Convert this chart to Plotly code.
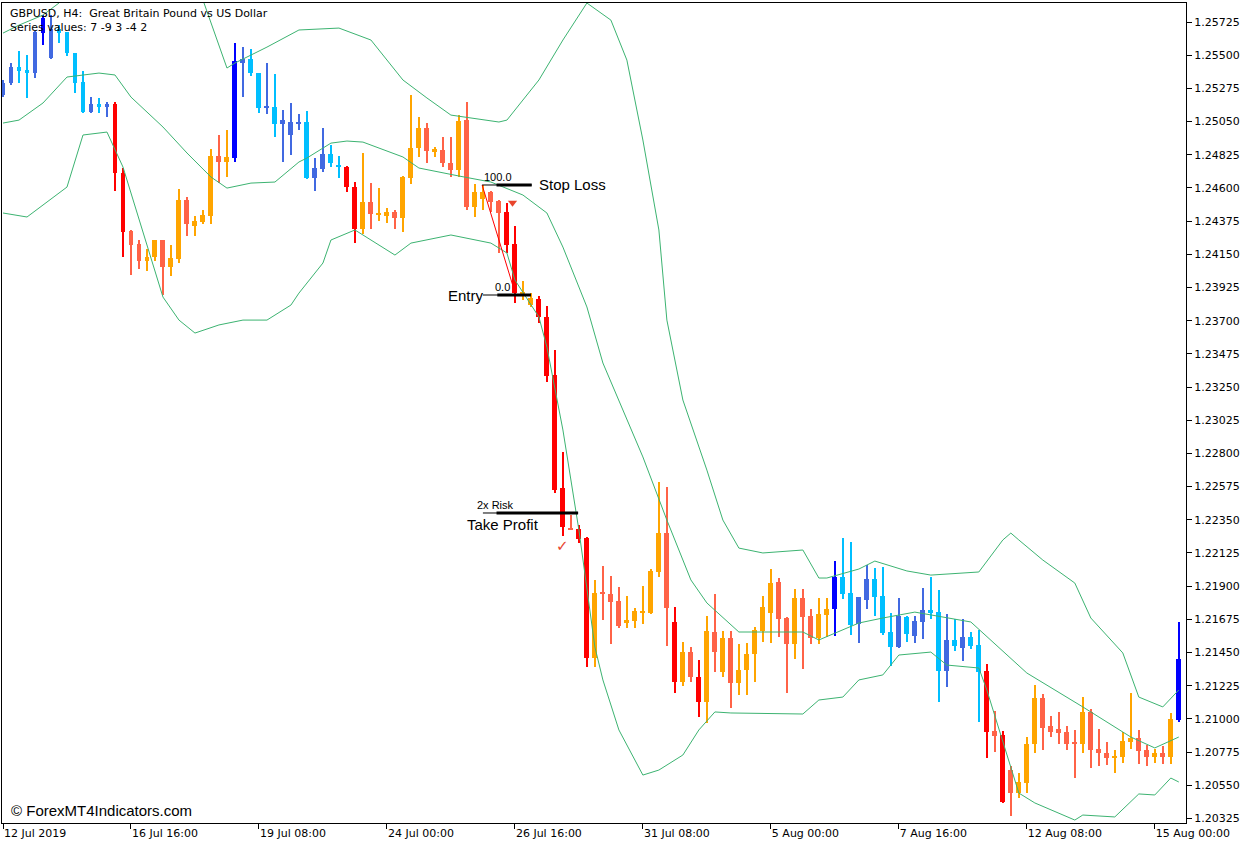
import plotly.graph_objects as go

# ---- data ----
opens = [1.25230,1.25311,1.25420,1.25399,1.25379,1.25650,1.25677,1.25650,1.25657,1.25515,
1.25318,1.25115,1.25169,1.25149,1.25169,1.24701,1.24308,1.24220,1.24104,1.24132,
1.24247,1.24064,1.24118,1.24518,1.24342,1.24369,1.24410,1.24816,1.24776,1.24803,
1.25447,1.25474,1.25379,1.25145,1.25149,1.25033,1.24959,1.25040,1.25047,1.24667,
1.24728,1.24830,1.24749,1.24742,1.24606,1.24321,1.24504,1.24416,1.24410,1.24437,
1.24396,1.24667,1.24871,1.25006,1.24843,1.24857,1.24769,1.24721,1.25060,1.24471,
1.24525,1.24572,1.24511,1.24437,1.24220,1.23874,1.23806,1.23847,1.23725,1.23331,
1.22565,1.22294,1.22287,1.22226,1.21413,1.21853,1.21847,1.21799,1.21650,1.21663,
1.21724,1.21717,1.21996,1.22260,1.21657,1.21250,1.21453,1.21284,1.21114,1.21589,
1.21318,1.21548,1.21243,1.21331,1.21440,1.21596,1.21717,1.21928,1.21684,1.21508,
1.21820,1.21698,1.21548,1.21704,1.21745,1.21962,1.21853,1.21643,1.21806,1.21948,
1.21833,1.21589,1.21487,1.21690,1.21562,1.21657,1.21738,1.21724,1.21325,1.21535,
1.21481,1.21555,1.21501,1.21325,1.20918,1.20891,1.20653,1.20497,1.20565,1.20830,
1.21142,1.20952,1.20932,1.20911,1.20843,1.20830,1.21046,1.20796,1.20768,1.20735,
1.20741,1.20843,1.20870,1.20789,1.20741,1.20768,1.20741,1.20992]
highs = [1.25332,1.25447,1.25528,1.25501,1.25664,1.25772,1.25772,1.25704,1.25657,1.25515,
1.25393,1.25216,1.25210,1.25182,1.25182,1.24735,1.24315,1.24247,1.24186,1.24247,
1.24247,1.24213,1.24593,1.24538,1.24410,1.24450,1.24864,1.24959,1.24993,1.25582,
1.25555,1.25542,1.25379,1.25447,1.25372,1.25128,1.25176,1.25101,1.25121,1.24803,
1.25006,1.24891,1.24816,1.24749,1.24640,1.24837,1.24633,1.24599,1.24464,1.24450,
1.24681,1.25230,1.25081,1.25040,1.24877,1.24945,1.24945,1.25094,1.25182,1.24626,
1.24620,1.24579,1.24518,1.24498,1.24342,1.23969,1.23887,1.23867,1.23799,1.23501,
1.22809,1.22382,1.22314,1.22233,1.21942,1.22037,1.21969,1.21894,1.21833,1.21752,
1.21901,1.22016,1.22606,1.22572,1.21759,1.21521,1.21487,1.21399,1.21698,1.21847,
1.21596,1.21596,1.21508,1.21514,1.21623,1.21833,1.22016,1.21955,1.21690,1.21881,
1.21881,1.21745,1.21820,1.21820,1.22070,1.22226,1.22199,1.21826,1.22043,1.22023,
1.22030,1.21717,1.21820,1.21698,1.21698,1.21887,1.21962,1.21874,1.21710,1.21677,
1.21677,1.21589,1.21603,1.21372,1.21053,1.20918,1.20681,1.20633,1.20877,1.21230,
1.21169,1.21019,1.21046,1.20952,1.20925,1.21148,1.21067,1.20932,1.20843,1.20789,
1.20911,1.21175,1.20925,1.20823,1.20796,1.20816,1.21040,1.21657]
lows = [1.25216,1.25298,1.25311,1.25210,1.25345,1.25569,1.25474,1.25582,1.25494,1.25243,
1.25108,1.25108,1.25108,1.25081,1.24579,1.24132,1.24009,1.24050,1.24037,1.24104,
1.23874,1.24003,1.24091,1.24274,1.24274,1.24355,1.24355,1.24633,1.24674,1.24776,
1.25216,1.25359,1.25108,1.25101,1.24945,1.24776,1.24823,1.24993,1.24660,1.24579,
1.24708,1.24742,1.24667,1.24572,1.24226,1.24287,1.24321,1.24376,1.24362,1.24321,
1.24301,1.24626,1.24810,1.24769,1.24810,1.24742,1.24674,1.24674,1.24450,1.24403,
1.24450,1.24437,1.24159,1.24159,1.23820,1.23840,1.23793,1.23684,1.23284,1.22531,
1.22240,1.22281,1.22192,1.21352,1.21352,1.21670,1.21508,1.21616,1.21616,1.21616,
1.21643,1.21710,1.21962,1.21494,1.21175,1.21223,1.21250,1.21013,1.20972,1.21318,
1.21284,1.21074,1.21162,1.21162,1.21250,1.21521,1.21514,1.21555,1.21175,1.21406,
1.21338,1.21508,1.21508,1.21555,1.21562,1.21813,1.21569,1.21514,1.21745,1.21698,
1.21569,1.21359,1.21481,1.21521,1.21514,1.21542,1.21677,1.21114,1.21216,1.21460,
1.21392,1.21474,1.20979,1.20735,1.20775,1.20429,1.20342,1.20464,1.20497,1.20768,
1.20789,1.20877,1.20830,1.20789,1.20599,1.20768,1.20667,1.20681,1.20688,1.20633,
1.20701,1.20796,1.20694,1.20681,1.20701,1.20694,1.20694,1.20979]
closes = [1.25311,1.25420,1.25393,1.25379,1.25657,1.25752,1.25481,1.25677,1.25515,1.25311,
1.25115,1.25169,1.25149,1.25169,1.24701,1.24301,1.24213,1.24104,1.24132,1.24247,
1.24064,1.24125,1.24518,1.24355,1.24376,1.24416,1.24816,1.24776,1.24810,1.25460,
1.25474,1.25379,1.25142,1.25149,1.25033,1.25060,1.25047,1.25047,1.24667,1.24735,
1.24830,1.24769,1.24742,1.24606,1.24321,1.24504,1.24423,1.24430,1.24437,1.24396,
1.24674,1.24871,1.25006,1.24850,1.24864,1.24769,1.24721,1.25054,1.24471,1.24572,
1.24572,1.24504,1.24430,1.24213,1.23887,1.23894,1.23854,1.23725,1.23325,1.22552,
1.22301,1.22287,1.22220,1.21413,1.21853,1.21847,1.21792,1.21630,1.21670,1.21731,
1.21731,1.22003,1.22260,1.21752,1.21250,1.21453,1.21284,1.21114,1.21596,1.21453,
1.21548,1.21243,1.21331,1.21440,1.21603,1.21759,1.21921,1.21677,1.21508,1.21820,
1.21690,1.21548,1.21710,1.21745,1.21962,1.21847,1.21636,1.21826,1.21948,1.21826,
1.21582,1.21487,1.21698,1.21575,1.21663,1.21738,1.21717,1.21325,1.21535,1.21494,
1.21555,1.21494,1.21318,1.20911,1.20884,1.20436,1.20497,1.20572,1.20830,1.21142,
1.20938,1.20911,1.20904,1.20830,1.20836,1.21046,1.20789,1.20768,1.20735,1.20741,
1.20850,1.20870,1.20782,1.20741,1.20768,1.20741,1.20999,1.21406]
# signal state per candle: B strong bull, R bull, S bull pullback, D strong bear, T bear, O bear pullback
states = list("RRSSRBRSSSSRSRDDTTOOTOOTOOOTOBRSSRSRRRSRRSSDDOTOOTOOOTOTTOTOOTTDDOODDDDTDDOTTTOOOOOTDOTDOTOTOOOOOTTOTTOOBSSRRSSSRSRRSSRSRSSDTDTOOOTTTTTOTTTOOOTTOTOB")
bar_idx = list(range(len(opens)))

x_tick_idx = [0, 16, 32, 48, 64, 80, 96, 112, 128, 144]
x_tick_text = ["12 Jul 2019", "16 Jul 16:00", "19 Jul 08:00", "24 Jul 00:00", "26 Jul 16:00",
               "31 Jul 08:00", "5 Aug 00:00", "7 Aug 16:00", "12 Aug 08:00", "15 Aug 00:00"]
y_tick_vals = [1.20325 + 0.00225 * k for k in range(25)]

upper_x = [0, 2, 5, 7, None, 25, 28, 29, 33, 37, 42, 46, 48, 50, 53, 56, 62, 63, 65, 67, 70, 73, 76, 78, 80,
           82, 83, 85, 88, 90, 92, 95, 100, 102, 103, 107, 109, 113, 116, 122, 125, 126, 127, 130, 134, 136,
           140, 142, 145, 147]
upper_y = [1.25650, 1.25704, 1.25772, 1.25854, None, 1.25874, 1.25413, 1.25447, 1.25555, 1.25671, 1.25684,
           1.25603, 1.25467, 1.25332, 1.25210, 1.25094, 1.25047, 1.25060, 1.25196, 1.25332, 1.25603, 1.25854,
           1.25738, 1.25467, 1.24925, 1.24315, 1.23704, 1.23162, 1.22687, 1.22348, 1.22158, 1.22125, 1.22145,
           1.21955, 1.21955, 1.22016, 1.22070, 1.22003, 1.21975, 1.21996, 1.22213, 1.22260, 1.22213, 1.22077,
           1.21921, 1.21684, 1.21447, 1.21148, 1.21081, 1.21196]
mid_x = [0, 2, 5, 8, 12, 14, 16, 20, 23, 26, 28, 31, 34, 37, 38, 41, 43, 45, 50, 52, 57, 61, 65, 68, 70, 73,
         75, 80, 83, 86, 88, 92, 100, 102, 107, 110, 114, 120, 121, 128, 135, 141, 144, 147]
mid_y = [1.25040, 1.25060, 1.25176, 1.25352, 1.25379, 1.25366, 1.25216, 1.25013, 1.24837, 1.24674, 1.24599,
         1.24633, 1.24640, 1.24776, 1.24803, 1.24904, 1.24918, 1.24911, 1.24810, 1.24735, 1.24681, 1.24640,
         1.24552, 1.24430, 1.24199, 1.23793, 1.23413, 1.22776, 1.22348, 1.21942, 1.21786, 1.21589, 1.21589,
         1.21535, 1.21650, 1.21684, 1.21724, 1.21670, 1.21657, 1.21311, 1.21081, 1.20877, 1.20803, 1.20877]
low_x = [0, 3, 8, 10, 13, 15, 20, 22, 24, 27, 30, 33, 36, 37, 40, 41, 44, 49, 51, 56, 61, 63, 64, 67, 68, 70,
         72, 74, 75, 77, 80, 82, 85, 87, 89, 91, 100, 102, 105, 107, 110, 112, 116, 118, 122, 123, 127, 129,
         134, 135, 139, 142, 144, 146, 147]
low_y = [1.24430, 1.24403, 1.24606, 1.24959, 1.24979, 1.24742, 1.23860, 1.23704, 1.23616, 1.23671, 1.23704,
         1.23704, 1.23806, 1.23887, 1.24091, 1.24247, 1.24315, 1.24145, 1.24226, 1.24281, 1.24226, 1.24159,
         1.23976, 1.23725, 1.23521, 1.22959, 1.22281, 1.21487, 1.21264, 1.20925, 1.20619, 1.20653, 1.20755,
         1.20925, 1.21047, 1.21040, 1.21033, 1.21128, 1.21148, 1.21264, 1.21298, 1.21433, 1.21453, 1.21365,
         1.21345, 1.21196, 1.20497, 1.20430, 1.20314, 1.20348, 1.20335, 1.20491, 1.20484, 1.20599, 1.20572]

stop_price, entry_price, tp_price = 1.24620, 1.23874, 1.22396
fib_start_idx, fib_end_idx = 59.9, 64.1

# ---- styling ----
palette = {"B": "#0000FF", "R": "#4169E1", "S": "#00BFFF", "D": "#FF0000", "T": "#FF6347", "O": "#FFA500"}
colors = [palette[s] for s in states]
MINH = 0.00008
body_base = [min(o, c) for o, c in zip(opens, closes)]
body_h = [max(abs(o - c), MINH) for o, c in zip(opens, closes)]
wick_h = [h - l for h, l in zip(highs, lows)]

fig = go.Figure()
band_style = dict(color="#3CB371", width=1)
for xs, ys in [(upper_x, upper_y), (mid_x, mid_y), (low_x, low_y)]:
    fig.add_trace(go.Scatter(x=xs, y=ys, mode="lines", line=band_style, hoverinfo="skip", connectgaps=False))
fig.add_trace(go.Bar(x=bar_idx, y=wick_h, base=lows, width=0.14, marker=dict(color=colors, line=dict(width=0))))
fig.add_trace(go.Bar(x=bar_idx, y=body_h, base=body_base, width=0.62, marker=dict(color=colors, line=dict(width=0))))

# fibo-like levels
fig.add_trace(go.Scatter(x=[fib_start_idx, fib_end_idx], y=[stop_price, entry_price], mode="lines",
                         line=dict(color="#FF0000", width=1)))
for lev, x0, x1 in [(stop_price, fib_start_idx, 66.1), (entry_price, 60.0, 66.0), (tp_price, 60.0, 71.9)]:
    fig.add_shape(type="line", x0=x0, x1=x1, y0=lev, y1=lev, line=dict(color="black", width=1))
for lev, x0, x1 in [(stop_price, 61.7, 66.1), (entry_price, 61.8, 66.0), (tp_price, 61.7, 71.9)]:
    fig.add_shape(type="line", x0=x0, x1=x1, y0=lev, y1=lev, line=dict(color="black", width=3))
fig.add_trace(go.Scatter(x=[63.7], y=[1.24500], mode="markers",
                         marker=dict(symbol="triangle-down", size=8, color="#E8452C")))

ann = []
f_small = dict(family="Liberation Sans, Arial", size=11, color="black")
f_big = dict(family="Liberation Sans, Arial", size=15, color="black")
ann.append(dict(x=59.9, y=stop_price, text="100.0", xanchor="left", yanchor="bottom", font=f_small, showarrow=False))
ann.append(dict(x=66.8, y=stop_price, text="Stop Loss", xanchor="left", yanchor="middle", font=f_big, showarrow=False))
ann.append(dict(x=61.3, y=entry_price, text="0.0", xanchor="left", yanchor="bottom", font=f_small, showarrow=False))
ann.append(dict(x=60.4, y=entry_price, text="Entry", xanchor="right", yanchor="middle", font=f_big, showarrow=False))
ann.append(dict(x=59.0, y=tp_price, text="2x Risk", xanchor="left", yanchor="bottom", font=f_small, showarrow=False))
ann.append(dict(x=57.8, y=tp_price, text="Take Profit", xanchor="left", yanchor="top", font=f_big, showarrow=False, yshift=-1))
ann.append(dict(x=69.9, y=1.22170, text="✓", font=dict(family="DejaVu Sans", size=15, color="#E8452C"), showarrow=False))
ann.append(dict(xref="paper", yref="paper", x=0.005, y=0.997, xanchor="left", yanchor="top",
                text="GBPUSD, H4:  Great Britain Pound vs US Dollar<br>Series values: 7 -9 3 -4 2",
                align="left", font=dict(family="DejaVu Sans", size=11, color="black"), showarrow=False))
ann.append(dict(xref="paper", yref="paper", x=0.006, y=0.003, xanchor="left", yanchor="bottom",
                text="© ForexMT4Indicators.com", font=dict(family="Liberation Sans, Arial", size=15, color="black"),
                showarrow=False))

fig.update_layout(
    width=1256, height=846, margin=dict(l=2, r=70, t=3, b=23, autoexpand=False),
    paper_bgcolor="white", plot_bgcolor="white", showlegend=False, barmode="overlay",
    annotations=ann, bargap=0,
    xaxis=dict(range=[-0.125, 147.9], tickmode="array", tickvals=x_tick_idx, ticktext=x_tick_text,
               showgrid=False, zeroline=False, showline=True, linecolor="black", linewidth=1, mirror=True,
               ticks="outside", ticklen=5, tickcolor="black", ticklabelposition="outside right",
               automargin=False, tickfont=dict(family="DejaVu Sans", size=11, color="black")),
    yaxis=dict(range=[1.20294, 1.25854], side="right", tickmode="array", tickvals=y_tick_vals,
               tickformat=".5f", showgrid=False, zeroline=False, showline=True, linecolor="black",
               linewidth=1, mirror=True, ticks="outside", ticklen=5, tickcolor="black", automargin=False,
               tickfont=dict(family="DejaVu Sans", size=11, color="black")),
)
fig.write_html("out.html", config={"displayModeBar": False},
               post_script="document.body.style.margin='0';document.body.style.overflow='hidden';")
